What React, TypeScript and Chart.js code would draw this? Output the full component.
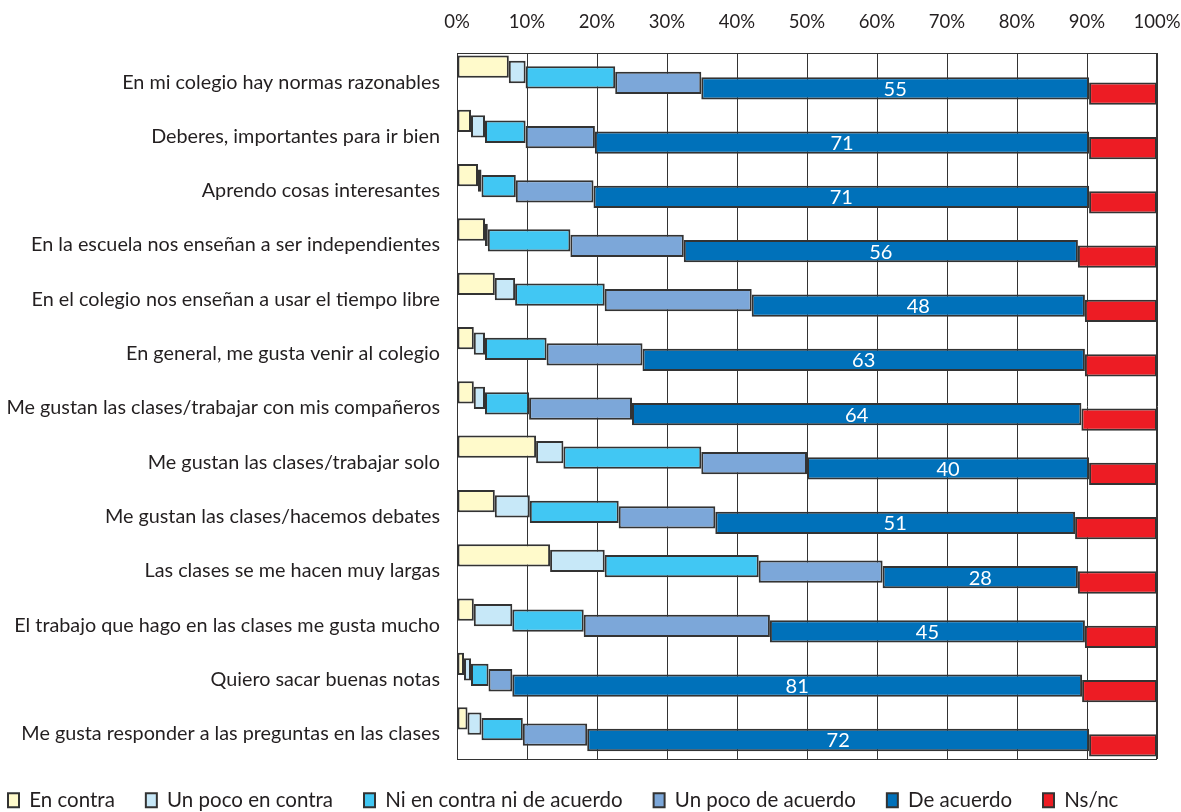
import React, { useEffect, useRef } from "react";
import { Chart, registerables } from "chart.js";
Chart.register(...registerables);

const categories = [
  "En mi colegio hay normas razonables",
  "Deberes, importantes para ir bien",
  "Aprendo cosas interesantes",
  "En la escuela nos enseñan a ser independientes",
  "En el colegio nos enseñan a usar el tiempo libre",
  "En general, me gusta venir al colegio",
  "Me gustan las clases/trabajar con mis compañeros",
  "Me gustan las clases/trabajar solo",
  "Me gustan las clases/hacemos debates",
  "Las clases se me hacen muy largas",
  "El trabajo que hago en las clases me gusta mucho",
  "Quiero sacar buenas notas",
  "Me gusta responder a las preguntas en las clases",
];

const seriesNames = [
  "En contra",
  "Un poco en contra",
  "Ni en contra ni de acuerdo",
  "Un poco de acuerdo",
  "De acuerdo",
  "Ns/nc",
];

const enContra = [7.4, 2, 3, 4, 5.4, 2.4, 2.4, 11.3, 5.4, 13.3, 2.4, 1, 1.5];
const unPocoEnContra = [2.4, 2, 0.5, 0.4, 2.9, 1.6, 1.6, 3.9, 5, 7.8, 5.5, 1, 2];
const niEnContraNiDeAcuerdo = [12.8, 5.8, 4.9, 11.8, 12.8, 8.8, 6.3, 19.7, 12.7, 22, 10.2, 2.5, 5.9];
const unPocoDeAcuerdo = [12.3, 9.9, 11.1, 16.2, 21, 13.7, 14.7, 15.1, 13.8, 17.7, 26.6, 3.4, 9.2];
const deAcuerdo = [55.4, 70.6, 70.8, 56.3, 47.6, 63.2, 64.2, 40.3, 51.4, 27.9, 45, 81.4, 71.7];
const nsNc = [9.7, 9.7, 9.7, 11.3, 10.3, 10.3, 10.8, 9.7, 11.7, 11.3, 10.3, 10.7, 9.7];

const xTicks = [0, 10, 20, 30, 40, 50, 60, 70, 80, 90, 100];

const colors = ["#FFFACB", "#C7E8F8", "#41C7F3", "#7CA7D9", "#0071BA", "#ED1C24"];

const FONT = "Lato";
const TEXT = "#231F20";

export default function App() {
  const ref = useRef<HTMLCanvasElement>(null);

  useEffect(() => {
    const series = [enContra, unPocoEnContra, niEnContraNiDeAcuerdo, unPocoDeAcuerdo, deAcuerdo, nsNc];
    const datasets = series.map((vals, si) => ({
      label: seriesNames[si],
      data: vals.map((v, i) => {
        let start = 0;
        for (let k = 0; k < si; k++) start += series[k][i];
        return [start, Math.min(100, start + v)];
      }),
      backgroundColor: colors[si],
      borderColor: "#333333",
      borderWidth: 2,
      borderSkipped: false as const,
      barPercentage: 4.1,
      categoryPercentage: 0.6,
    }));

    const frame = {
      id: "frame",
      beforeDatasetsDraw(chart: any) {
        const { left, top, right, bottom } = chart.chartArea;
        const ctx = chart.ctx;
        ctx.save();
        ctx.strokeStyle = "#333";
        ctx.lineWidth = 1;
        ctx.strokeRect(left + 0.5, top + 0.5, right - left - 1, bottom - top);
        ctx.restore();
      },
    };

    const valueLabels = {
      id: "valueLabels",
      afterDatasetsDraw(chart: any) {
        const meta = chart.getDatasetMeta(4);
        const ctx = chart.ctx;
        ctx.save();
        ctx.fillStyle = "#ffffff";
        ctx.font = `20px ${FONT}`;
        ctx.textAlign = "center";
        ctx.textBaseline = "middle";
        meta.data.forEach((el: any, i: number) => {
          const { x, base, y } = el.getProps(["x", "base", "y"], true);
          ctx.fillText(String(Math.round(deAcuerdo[i])), (x + base) / 2, y + 1);
        });
        ctx.restore();
      },
    };

    const chart = new Chart(ref.current!, {
      type: "bar",
      data: { labels: categories, datasets: datasets as any },
      options: {
        indexAxis: "y",
        responsive: false,
        animation: false,
        devicePixelRatio: 1,
        layout: { padding: { left: -23, right: 24, top: 0, bottom: -8.5 } },
        scales: {
          x: {
            position: "top",
            min: 0,
            max: 100,
            afterBuildTicks: (s: any) => {
              s.ticks = xTicks.map((v) => ({ value: v }));
            },
            afterFit: (s: any) => {
              s.height = 53;
              s.paddingLeft = 0;
              s.paddingRight = 0;
            },
            ticks: {
              callback: (v: any) => v + "%",
              font: { family: FONT, size: 18.5 },
              color: TEXT,
              padding: 20,
              maxRotation: 0,
            },
            grid: { color: "#333", lineWidth: 1, drawTicks: false },
            border: { color: "#333" },
          },
          y: {
            afterFit: (s: any) => {
              s.width = 480;
            },
            ticks: {
              font: { family: FONT, size: 19.8 },
              color: TEXT,
              padding: 17,
              labelOffset: 2,
            },
            grid: { display: false, drawTicks: false },
            border: { color: "#333" },
          },
        },
        plugins: {
          tooltip: { enabled: false },
          legend: {
            position: "bottom",
            align: "start",
            labels: {
              boxWidth: 11,
              boxHeight: 14,
              padding: 31,
              color: TEXT,
              font: { family: FONT, size: 20.5 },
            },
          },
        },
      },
      plugins: [frame, valueLabels],
    });
    return () => chart.destroy();
  }, []);

  return (
    <div style={{ position: "fixed", left: 0, top: 0, width: 1181, height: 812, background: "#fff" }}>
      <canvas ref={ref} width={1181} height={812} />
    </div>
  );
}
